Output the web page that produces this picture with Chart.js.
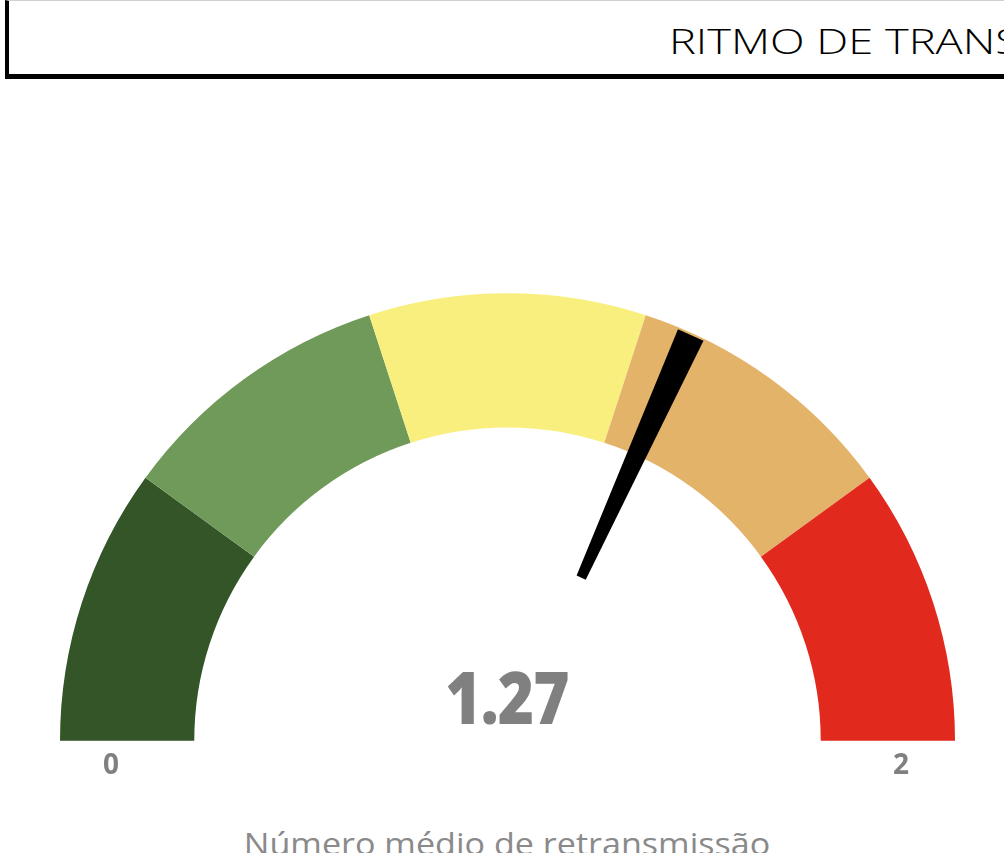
<!DOCTYPE html>
<html lang="pt">
<head>
  <meta charset="UTF-8" />
  <title>Ritmo de transmissão</title>
  <script src="https://cdn.jsdelivr.net/npm/chart.js"></script>
  <style>
    html, body { margin: 0; padding: 0; background: #fff; overflow: hidden; }
    body { width: 1004px; height: 853px; position: relative; font-family: 'Open Sans', 'Noto Sans', sans-serif; }
    .header { position: absolute; left: 5px; top: 0; width: 1100px; height: 73px;
              border-top: 1px solid #d0d0d0; border-left: 4px solid #000; border-bottom: 5px solid #000; }
    .header span { position: absolute; left: 660px; top: 17px; font-size: 34px; font-weight: 300; color: #000; white-space: nowrap;
                   transform: scaleX(1.33); transform-origin: left center; }
    .gauge { position: absolute; left: 60px; top: 293px; width: 895px; height: 448px; }
    .value { position: absolute; left: 0; width: 1014px; top: 647px; text-align: center; font-size: 72px; font-weight: 800; color: #808080; letter-spacing: -1px;
             transform: scaleX(0.86); transform-origin: 507px center; }
    .tick { position: absolute; top: 744px; font-size: 28px; font-weight: 700; color: #808080; }
    .subtitle { position: absolute; left: 0; width: 1014px; top: 822px; text-align: center; font-size: 31px; font-weight: 400; color: #8a8a8a;
                transform: scaleX(1.1); transform-origin: 507px center; }
  </style>
</head>
<body>
  <div class="header"><span>RITMO DE TRANSMISSÃO</span></div>
  <div class="gauge"><canvas id="gaugeChart"></canvas></div>
  <div class="value" id="valueText"></div>
  <div class="tick" id="minTick" style="left:103px"></div>
  <div class="tick" id="maxTick" style="left:893px"></div>
  <div class="subtitle">Número médio de retransmissão</div>

  <script>
    // faixas do medidor
    const bandLabels = ['0 - 0.4', '0.4 - 0.8', '0.8 - 1.2', '1.2 - 1.6', '1.6 - 2'];
    const bandSizes = [0.4, 0.4, 0.4, 0.4, 0.4];
    const bandColors = ['#335527', '#709a59', '#f8ef7f', '#e3b36a', '#e2291d'];
    const gaugeMin = 0;
    const gaugeMax = 2;
    const currentValue = 1.27;

    document.getElementById('valueText').textContent = currentValue.toFixed(2);
    document.getElementById('minTick').textContent = gaugeMin;
    document.getElementById('maxTick').textContent = gaugeMax;

    // ponteiro
    const needlePlugin = {
      id: 'needle',
      afterDatasetsDraw(chart) {
        const arc = chart.getDatasetMeta(0).data[0];
        if (!arc) return;
        const { x, y, outerRadius } = arc;
        const ctx = chart.ctx;
        const frac = (currentValue - gaugeMin) / (gaugeMax - gaugeMin);
        const ang = Math.PI + frac * Math.PI;
        const r0 = outerRadius * 0.40, r1 = outerRadius * 0.995;
        const w0 = 5, w1 = 14;
        const cx = Math.cos(ang), sy = Math.sin(ang);
        const px = -sy, py = cx;
        ctx.save();
        ctx.beginPath();
        ctx.moveTo(x + cx * r0 + px * w0, y + sy * r0 + py * w0);
        ctx.lineTo(x + cx * r1 + px * w1, y + sy * r1 + py * w1);
        ctx.lineTo(x + cx * r1 - px * w1, y + sy * r1 - py * w1);
        ctx.lineTo(x + cx * r0 - px * w0, y + sy * r0 - py * w0);
        ctx.closePath();
        ctx.fillStyle = '#000';
        ctx.fill();
        ctx.restore();
      }
    };

    new Chart(document.getElementById('gaugeChart'), {
      type: 'doughnut',
      data: {
        labels: bandLabels,
        datasets: [{
          data: bandSizes,
          backgroundColor: bandColors,
          borderWidth: 0,
          hoverOffset: 0
        }]
      },
      options: {
        responsive: true,
        maintainAspectRatio: false,
        animation: false,
        rotation: -90,
        circumference: 180,
        cutout: '70%',
        layout: { padding: 0 },
        plugins: { legend: { display: false }, tooltip: { enabled: false } },
        events: []
      },
      plugins: [needlePlugin]
    });
  </script>
</body>
</html>
